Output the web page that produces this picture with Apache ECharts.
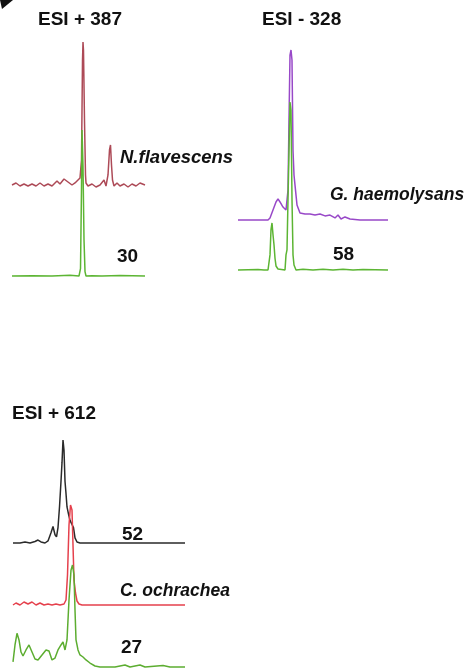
<!DOCTYPE html>
<html>
<head>
<meta charset="utf-8">
<script src="https://cdn.jsdelivr.net/npm/echarts@6/dist/echarts.min.js"></script>
<style>html,body{margin:0;padding:0;background:#fff}#chart{width:466px;height:669px}</style>
</head>
<body>
<div id="chart"></div>
<script>
// Panel titles and labels
const panelTitles = ['ESI + 387', 'ESI - 328', 'ESI + 612'];
const traceLabels = ['N.flavescens', '30', 'G. haemolysans', '58', '52', 'C. ochrachea', '27'];

// Panel 1 (ESI + 387): N. flavescens (red) and isolate 30 (green)
const p1RedTime = [0,0.4,0.8,1.2,1.6,2.0,2.4,2.8,3.2,3.6,4.0,4.5,4.8,5.2,5.6,6.0,6.3,6.6,6.8,6.95,7.05,7.1,7.15,7.25,7.35,7.4,7.6,8.0,8.4,8.8,9.2,9.4,9.6,9.75,9.85,9.95,10.05,10.2,10.5,10.8,11.2,11.6,12.0,12.4,12.8,13.3];
const p1RedInt  = [0,1.4,-0.7,0.7,-0.7,0.7,-0.7,1.4,-0.7,0.7,-0.7,2.8,0.7,4.2,2.1,0,1.4,3.5,4.9,17.5,87,100,94,45,7,1.4,-0.7,0.7,-1.4,0,3.5,-0.7,7,24.5,28,14,3.5,-0.7,1.4,-0.7,0.7,-1.4,0.7,-0.7,1.4,0];
const p1GreenTime = [0,2,4,5.8,6.0,6.7,6.85,6.95,7.0,7.1,7.2,7.3,7.4,8.0,9.0,10.8,11.0,13.3];
const p1GreenInt  = [0,0.2,0,0.5,0,0,5,60,100,75,25,3,0,0.2,0,0.4,0,0];

// Panel 2 (ESI - 328): G. haemolysans (purple) and isolate 58 (green)
const p2PurpleTime = [0,3.0,3.2,3.5,3.8,4.0,4.2,4.5,4.8,5.0,5.1,5.2,5.3,5.4,5.5,5.6,5.75,5.9,6.2,6.7,7.2,7.7,8.2,8.7,9.2,9.7,10.0,10.3,10.7,11.2,12.2,15.0];
const p2PurpleInt  = [0,0,1.2,5.9,10.6,12.4,10.6,7.6,5.9,17.6,58.8,97,100,94,41,26.5,17.6,8.8,4.1,3.5,3.5,2.9,3.5,2.4,2.9,1.2,2.9,0.6,1.8,0.6,0,0];
const p2GreenTime = [0,2.0,2.6,3.0,3.2,3.3,3.4,3.5,3.6,3.7,3.8,4.0,4.2,4.7,4.8,4.9,5.0,5.1,5.2,5.3,5.4,5.5,5.6,5.8,6.5,7.5,8.5,9.5,10.5,11.5,12.5,15.0];
const p2GreenInt  = [0,0.3,0,0,9,24,28,21,15,7,2.4,0.6,0,0,9,12,42,71,100,95,42,9,3,0,0.4,0,0.5,0,0.4,0,0.3,0];

// Panel 3 (ESI + 612): isolate 52 (black), C. ochrachea (red), isolate 27 (green)
const p3BlackTime = [0,0.7,1.2,1.7,2.2,2.5,2.8,3.2,3.5,3.8,4.0,4.2,4.35,4.5,4.65,4.8,4.9,5.0,5.1,5.2,5.3,5.4,5.55,5.7,5.9,6.05,6.2,6.4,6.7,7.7,17.2];
const p3BlackInt  = [0,0,1,0,1.5,2.9,1,0,2,10,16,8,6,15,35,60,78,100,90,60,48,35,28,22,18,15,5,1,0,0,0];
const p3RedTime = [0,0.3,0.7,1.1,1.5,1.9,2.3,2.7,3.1,3.5,3.9,4.3,4.7,5.1,5.3,5.45,5.6,5.75,5.9,6.0,6.1,6.25,6.4,6.6,6.9,17.2];
const p3RedInt  = [0,2,0,3,1,3,0,2,0,1,0,1,0,1,5,30,80,100,95,60,25,12,4,1,0,0];
const p3GreenTime = [0,0.2,0.4,0.6,0.8,1.0,1.3,1.6,1.9,2.2,2.5,2.9,3.3,3.6,3.9,4.2,4.5,4.8,5.0,5.2,5.4,5.6,5.8,5.95,6.1,6.2,6.3,6.5,6.7,7.0,7.3,7.7,8.2,8.7,10.2,11.2,11.7,12.7,13.2,15.0,15.7,17.2];
const p3GreenInt  = [5,21.6,33,26.5,14.7,10.8,16.7,21.6,14.7,7.8,6.9,11.8,16.7,15.7,6.9,8.8,16.7,21.6,24.5,16.7,26.5,65.7,95,100,90,55.9,26.5,16.7,11.8,9.8,6.9,3.9,1,0,0,2,0,2,0,1.5,0,0];

// Trace layout (style/placement only)
const traces = [
  {t: p1RedTime,    v: p1RedInt,    color: '#ad4a57', box: [12, 42, 133, 143]},
  {t: p1GreenTime,  v: p1GreenInt,  color: '#5cb533', box: [12, 130, 133, 146]},
  {t: p2PurpleTime, v: p2PurpleInt, color: '#9848c8', box: [238, 50, 150, 170]},
  {t: p2GreenTime,  v: p2GreenInt,  color: '#5cb533', box: [238, 102, 150, 168]},
  {t: p3BlackTime,  v: p3BlackInt,  color: '#2a2a2a', box: [13, 440, 172, 103]},
  {t: p3RedTime,    v: p3RedInt,    color: '#e5404c', box: [13, 505, 172, 100]},
  {t: p3GreenTime,  v: p3GreenInt,  color: '#5cad30', box: [13, 565, 172, 102]}
];

const grids = [], xAxes = [], yAxes = [], series = [];
traces.forEach((tr, i) => {
  const [l, t, w, h] = tr.box;
  grids.push({left: l, top: t, width: w, height: h});
  xAxes.push({type: 'value', gridIndex: i, min: 0, max: w / 10, show: false});
  yAxes.push({type: 'value', gridIndex: i, min: 0, max: 100, show: false});
  series.push({
    type: 'line', xAxisIndex: i, yAxisIndex: i,
    data: tr.t.map((x, k) => [x, tr.v[k]]),
    showSymbol: false, clip: false, silent: true,
    lineStyle: {color: tr.color, width: 1.5},
    z: 2 + i
  });
});

const FAM = '"Liberation Sans", Arial, sans-serif';
const titleFont = 'bold 19px ' + FAM;
const numFont = 'bold 19px ' + FAM;
function txt(text, x, y, font) {
  return {type: 'text', x: x, y: y, z: 20,
    style: {text: text, font: font, fill: '#111', textAlign: 'left', textVerticalAlign: 'middle'}};
}

const chart = echarts.init(document.getElementById('chart'), null, {renderer: 'canvas'});
chart.setOption({
  animation: false,
  backgroundColor: '#fff',
  grid: grids, xAxis: xAxes, yAxis: yAxes, series: series,
  graphic: [
    {type: 'polygon', shape: {points: [[0, 0], [13, 0], [2, 9]]}, style: {fill: '#111'}},
    txt(panelTitles[0], 38, 20, titleFont),
    txt(panelTitles[1], 262, 20, titleFont),
    txt(panelTitles[2], 12, 414, titleFont),
    txt(traceLabels[0], 120, 158, 'italic bold 18.5px ' + FAM),
    txt(traceLabels[1], 117, 257, numFont),
    txt(traceLabels[2], 330, 195, 'italic bold 17.5px ' + FAM),
    txt(traceLabels[3], 333, 255, numFont),
    txt(traceLabels[4], 122, 535, numFont),
    txt(traceLabels[5], 120, 591, 'italic bold 17.5px ' + FAM),
    txt(traceLabels[6], 121, 648, numFont)
  ]
});
</script>
</body>
</html>
